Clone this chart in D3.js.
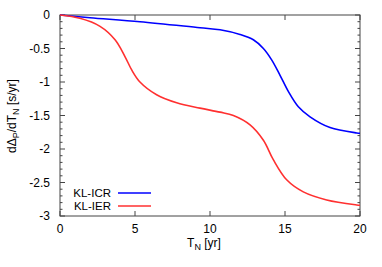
<!DOCTYPE html>
<html>
<head>
<meta charset="utf-8">
<script src="https://cdn.jsdelivr.net/npm/d3@7"></script>
<style>
  body { margin: 0; background: #fff; }
  svg { font-family: "Liberation Sans", Arial, sans-serif; }
</style>
</head>
<body>
<div id="chart"></div>
<script>
// values
var tN = [0, 1.33, 2.67, 3.67, 4.33, 4.78, 5.33, 6.44, 7.78, 9.33, 10.67, 11.56, 12.67, 13.56, 14.22, 15.11, 16.22, 17.78, 19.78, 20];
var icrT = [0, 2, 5.33, 9.33, 10.67, 12, 12.89, 13.56, 14.11, 14.67, 15.22, 15.89, 16.67, 18, 19.78, 20];
var icrV = [0, -0.04, -0.1, -0.19, -0.22, -0.29, -0.37, -0.5, -0.67, -0.9, -1.14, -1.37, -1.52, -1.68, -1.76, -1.765];
var ierV = [0, -0.05, -0.17, -0.37, -0.62, -0.82, -1.0, -1.19, -1.31, -1.39, -1.45, -1.5, -1.64, -1.87, -2.16, -2.46, -2.64, -2.76, -2.835, -2.84];
var xTicks = [0, 5, 10, 15, 20];
var yTicks = [0, -0.5, -1, -1.5, -2, -2.5, -3];
var seriesNames = ['KL-ICR', 'KL-IER'];
var seriesColors = ['#0000ff', '#ff3030'];

var options = {
	width: 300, height: 201,
	margin: {left: 60, top: 15},
	fontSize: 12
};

var svg = d3.select('#chart').append('svg')
	.attr('width', 382).attr('height', 267);
var g = svg.append('g')
	.attr('transform', 'translate(' + options.margin.left + ',' + options.margin.top + ')');

var x = d3.scaleLinear().domain([0, 20]).range([0, options.width]);
var y = d3.scaleLinear().domain([-3, 0]).range([options.height, 0]);

var axisColor = '#444';
var minorY = d3.range(-3, 0.001, 0.1);

// frame
g.append('rect')
	.attr('width', options.width).attr('height', options.height)
	.attr('fill', 'none').attr('stroke', axisColor).attr('stroke-width', 1);

// y ticks on both sides
minorY.forEach(function (v) {
	var major = Math.abs(v * 2 - Math.round(v * 2)) < 1e-6;
	var len = major ? 5 : 2.5;
	g.append('line').attr('x1', 0).attr('x2', len).attr('y1', y(v)).attr('y2', y(v))
		.attr('stroke', axisColor);
	g.append('line').attr('x1', options.width).attr('x2', options.width - len).attr('y1', y(v)).attr('y2', y(v))
		.attr('stroke', axisColor);
});
xTicks.forEach(function (t) {
	g.append('line').attr('x1', x(t)).attr('x2', x(t)).attr('y1', options.height).attr('y2', options.height - 5)
		.attr('stroke', axisColor);
	g.append('line').attr('x1', x(t)).attr('x2', x(t)).attr('y1', 0).attr('y2', 5)
		.attr('stroke', axisColor);
});

g.selectAll('.ylab').data(yTicks).enter().append('text')
	.attr('x', -10).attr('y', function (d) { return y(d); })
	.attr('dy', '0.35em').attr('text-anchor', 'end')
	.attr('font-size', options.fontSize).text(function (d) { return d; });
g.selectAll('.xlab').data(xTicks).enter().append('text')
	.attr('x', function (d) { return x(d); }).attr('y', options.height + 17)
	.attr('text-anchor', 'middle')
	.attr('font-size', options.fontSize).text(function (d) { return d; });

// axis titles
var xt = svg.append('text').attr('x', 204).attr('y', 247).attr('text-anchor', 'middle').attr('font-size', options.fontSize);
xt.append('tspan').text('T');
xt.append('tspan').attr('font-size', 9).attr('dy', 3).text('N');
xt.append('tspan').attr('dy', -3).text(' [yr]');

var yt = svg.append('text').attr('transform', 'translate(16,116) rotate(-90)')
	.attr('text-anchor', 'middle').attr('font-size', options.fontSize);
yt.append('tspan').text('d\u0394');
yt.append('tspan').attr('font-size', 9).attr('dy', 3).text('P');
yt.append('tspan').attr('dy', -3).text('/dT');
yt.append('tspan').attr('font-size', 9).attr('dy', 3).text('N');
yt.append('tspan').attr('dy', -3).text(' [s/yr]');

// curves
var line = d3.line()
	.x(function (d) { return x(d[0]); })
	.y(function (d) { return y(d[1]); })
	.curve(d3.curveCatmullRom.alpha(0.5));

var series = [
	icrT.map(function (t, i) { return [t, icrV[i]]; }),
	tN.map(function (t, i) { return [t, ierV[i]]; })
];

series.forEach(function (s, i) {
	g.append('path').datum(s).attr('d', line)
		.attr('fill', 'none').attr('stroke', seriesColors[i]).attr('stroke-width', 1.6);
});

// legend
seriesNames.forEach(function (n, i) {
	var ly = 178 + i * 13;
	g.append('text').attr('x', 51).attr('y', ly).attr('dy', '0.35em')
		.attr('text-anchor', 'end').attr('font-size', 11.5).text(n);
	g.append('line').attr('x1', 58).attr('x2', 91).attr('y1', ly).attr('y2', ly)
		.attr('stroke', seriesColors[i]).attr('stroke-width', 1.6);
});
</script>
</body>
</html>
